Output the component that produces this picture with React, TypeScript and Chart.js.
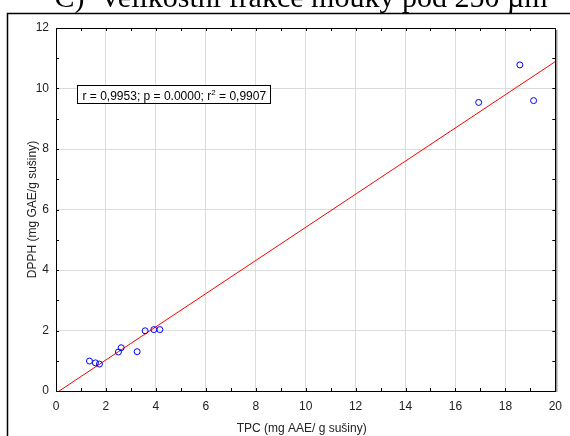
import React, { useEffect, useRef } from "react";
import { Chart, registerables } from "chart.js";

Chart.register(...registerables);

// ---- data ----
const tpcValues = [1.34, 1.58, 1.74, 2.5, 2.61, 3.25, 3.57, 3.92, 4.16, 16.93, 18.58, 19.13];
const dpphValues = [0.99, 0.93, 0.89, 1.29, 1.43, 1.3, 1.99, 2.03, 2.03, 9.54, 10.78, 9.6];
const fitX = [0, 20];
const fitY = [-0.07, 10.89];
const xTickValues = [0, 2, 4, 6, 8, 10, 12, 14, 16, 18, 20];
const yTickValues = [0, 2, 4, 6, 8, 10, 12];
const minorStep = 1;

const titleText = "C)  Velikostní frakce mouky pod 250 µm";
const xTitle = "TPC (mg AAE/ g sušiny)";
const yTitle = "DPPH (mg GAE/g sušiny)";
const statsMain = "r = 0,9953; p = 0.0000; r";
const statsSup = "2";
const statsEnd = " = 0,9907";

const W = 570;
const H = 436;
const PLOT = { left: 56, right: 562, top: 28, bottom: 391 };
const FONT = "Arial, 'Liberation Sans', sans-serif";

const decorPlugin = {
  id: "decor",
  beforeDraw(chart: any) {
    const ctx = chart.ctx;
    ctx.save();
    ctx.fillStyle = "#ffffff";
    ctx.fillRect(0, 0, W, H);
    // outer frame
    ctx.strokeStyle = "#000000";
    ctx.lineWidth = 1.5;
    ctx.beginPath();
    ctx.moveTo(7.5, H + 2);
    ctx.lineTo(7.5, 13.5);
    ctx.lineTo(W + 2, 13.5);
    ctx.stroke();
    // title (clipped at the top)
    ctx.fillStyle = "#000000";
    ctx.font = "30px 'Liberation Serif', 'Times New Roman', serif";
    ctx.textAlign = "center";
    ctx.textBaseline = "alphabetic";
    ctx.fillText(titleText, 301, 7);
    ctx.restore();
  },
  afterDraw(chart: any) {
    const ctx = chart.ctx;
    const a = chart.chartArea;
    const xs = chart.scales.x;
    const ys = chart.scales.y;
    ctx.save();
    // plot box
    ctx.strokeStyle = "#000000";
    ctx.lineWidth = 1;
    ctx.strokeRect(Math.round(a.left) + 0.5, Math.round(a.top) + 0.5, Math.round(a.right - a.left), Math.round(a.bottom - a.top));
    // shadow on right
    ctx.strokeStyle = "#9a9a9a";
    ctx.lineWidth = 1.5;
    ctx.beginPath();
    ctx.moveTo(Math.round(a.right) + 1.75, Math.round(a.top) + 2);
    ctx.lineTo(Math.round(a.right) + 1.75, Math.round(a.bottom) + 1);
    ctx.stroke();
    // inward ticks
    ctx.strokeStyle = "#000000";
    ctx.lineWidth = 1;
    const tl = 3;
    ctx.beginPath();
    for (let v = xs.min; v <= xs.max + 1e-9; v += minorStep) {
      const px = Math.round(xs.getPixelForValue(v)) + 0.5;
      ctx.moveTo(px, a.bottom);
      ctx.lineTo(px, a.bottom - tl);
      ctx.moveTo(px, a.top);
      ctx.lineTo(px, a.top + tl);
    }
    for (let v = ys.min; v <= ys.max + 1e-9; v += minorStep) {
      const py = Math.round(ys.getPixelForValue(v)) + 0.5;
      ctx.moveTo(a.left, py);
      ctx.lineTo(a.left + tl, py);
      ctx.moveTo(a.right, py);
      ctx.lineTo(a.right - tl, py);
    }
    ctx.stroke();

    // axis titles
    ctx.fillStyle = "#222222";
    ctx.font = "12px " + FONT;
    ctx.textAlign = "center";
    ctx.textBaseline = "middle";
    ctx.fillText(xTitle, (a.left + a.right) / 2 - 4, 429);
    ctx.save();
    ctx.translate(33, (a.top + a.bottom) / 2);
    ctx.rotate(-Math.PI / 2);
    ctx.fillText(yTitle, 0, 0);
    ctx.restore();

    // stats box
    const bx = a.left + 21.5;
    const by = a.top + 57.5;
    const bw = 193;
    const bh = 18;
    ctx.fillStyle = "#ffffff";
    ctx.fillRect(bx, by, bw, bh);
    ctx.strokeStyle = "#000000";
    ctx.lineWidth = 1;
    ctx.strokeRect(bx, by, bw, bh);
    ctx.fillStyle = "#000000";
    ctx.textAlign = "left";
    ctx.textBaseline = "alphabetic";
    ctx.font = "12px " + FONT;
    let tx = bx + 5;
    const base = by + 14;
    ctx.fillText(statsMain, tx, base);
    tx += ctx.measureText(statsMain).width;
    ctx.font = "8px " + FONT;
    ctx.fillText(statsSup, tx, base - 5);
    tx += ctx.measureText(statsSup).width;
    ctx.font = "12px " + FONT;
    ctx.fillText(statsEnd, tx, base);
    ctx.restore();
  },
};

export default function App() {
  const ref = useRef<HTMLCanvasElement | null>(null);
  useEffect(() => {
    if (!ref.current) return;
    const points = tpcValues.map((x, i) => ({ x, y: dpphValues[i] }));
    const fit = fitX.map((x, i) => ({ x, y: fitY[i] }));
    const chart = new Chart(ref.current, {
      type: "scatter",
      data: {
        datasets: [
          {
            label: "fit",
            data: fit,
            showLine: true,
            borderColor: "#ff0000",
            borderWidth: 1,
            pointRadius: 0,
            fill: false,
            order: 2,
          },
          {
            label: "data",
            data: points,
            pointStyle: "circle",
            pointRadius: 3,
            pointBorderColor: "#0000ff",
            pointBackgroundColor: "rgba(0,0,0,0)",
            pointBorderWidth: 1,
            borderColor: "#0000ff",
            backgroundColor: "rgba(0,0,0,0)",
            order: 1,
          },
        ],
      },
      options: {
        animation: false,
        responsive: false,
        devicePixelRatio: 1,
        layout: { padding: { top: PLOT.top, right: W - PLOT.right, left: 0, bottom: 0 } },
        plugins: { legend: { display: false }, tooltip: { enabled: false }, title: { display: false } },
        scales: {
          x: {
            type: "linear",
            min: xTickValues[0],
            max: xTickValues[xTickValues.length - 1],
            afterBuildTicks: (s: any) => {
              s.ticks = xTickValues.map((v) => ({ value: v }));
            },
            afterFit: (s: any) => {
              s.height = H - PLOT.bottom;
            },
            grid: { color: "#dcdcdc", lineWidth: 1, drawTicks: false },
            border: { display: false },
            ticks: { padding: 8, color: "#222222", font: { size: 12, family: FONT }, maxRotation: 0 },
          },
          y: {
            type: "linear",
            min: yTickValues[0],
            max: yTickValues[yTickValues.length - 1],
            afterBuildTicks: (s: any) => {
              s.ticks = yTickValues.map((v) => ({ value: v }));
            },
            afterFit: (s: any) => {
              s.width = PLOT.left;
            },
            grid: { color: "#dcdcdc", lineWidth: 1, drawTicks: false },
            border: { display: false },
            ticks: { padding: 7, color: "#222222", font: { size: 12, family: FONT } },
          },
        },
      },
      plugins: [decorPlugin],
    });
    return () => chart.destroy();
  }, []);
  return (
    <div style={{ position: "fixed", left: 0, top: 0, width: W, height: H, background: "#fff" }}>
      <canvas ref={ref} width={W} height={H} style={{ display: "block" }} />
    </div>
  );
}
